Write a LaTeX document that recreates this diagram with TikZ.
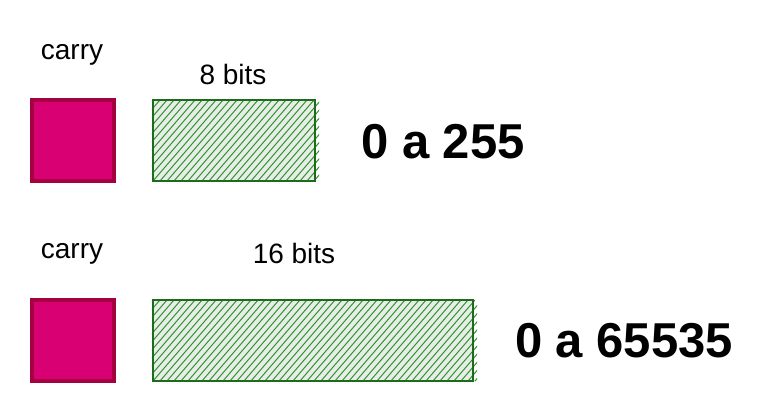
\documentclass[tikz,border=0pt]{standalone}
\usepackage{fontspec}
\setmainfont{Liberation Sans}
\definecolor{carryfill}{HTML}{D80073}
\definecolor{carryline}{HTML}{A50040}
\definecolor{regline}{HTML}{1E6B1E}
\definecolor{reghatch}{HTML}{2F962F}
\definecolor{regfill}{HTML}{E8EDE8}
\tikzset{
  carrybox/.style={draw=carryline, fill=carryfill, line width=4pt, minimum width=82pt, minimum height=81pt, inner sep=0pt},
  regbox/.style={fill=regfill, draw=none, minimum height=81pt, inner sep=0pt},
  regborder/.style={draw=regline, line width=1.6pt},
  hatchline/.style={draw=reghatch, line width=1pt},
  smalltxt/.style={font=\fontsize{28}{33}\selectfont, text=black, inner sep=0pt},
  bigtxt/.style={font=\fontsize{49}{57}\selectfont\bfseries, text=black, inner sep=0pt}
}
\newcommand{\hatchrect}[1]{%
  \begin{scope}
    \clip ([xshift=-1pt,yshift=-4pt]#1.south west) rectangle ([xshift=4pt]#1.north east);
    \foreach \k in {-14,...,58} {
      \draw[hatchline] ([xshift=7*\k pt]#1.south west) -- ++(70pt,81pt);
    }
  \end{scope}
  \draw[regborder] (#1.south west) rectangle (#1.north east);
}
\begin{document}
\begin{tikzpicture}[x=1pt,y=-1pt]
\useasboundingbox[fill=white] (0,0) rectangle (780,420);

% row 1
\node[smalltxt] (c1lab) at (72,55) {carry};
\node[smalltxt] (r1lab) at (233,74) {8 bits};
\node[carrybox] (c1) at (73,140.5) {};
\node[regbox, minimum width=162pt] (r1) at (234,140.5) {};
\hatchrect{r1}
\node[bigtxt] (v1) at (443,142) {0 a 255};

% row 2
\node[smalltxt] (c2lab) at (72,254) {carry};
\node[smalltxt] (r2lab) at (294,253) {16 bits};
\node[carrybox] (c2) at (73,340) {};
\node[regbox, minimum width=320pt] (r2) at (313,340.5) {};
\hatchrect{r2}
\node[bigtxt] (v2) at (624,341) {0 a 65535};
\end{tikzpicture}
\end{document}
